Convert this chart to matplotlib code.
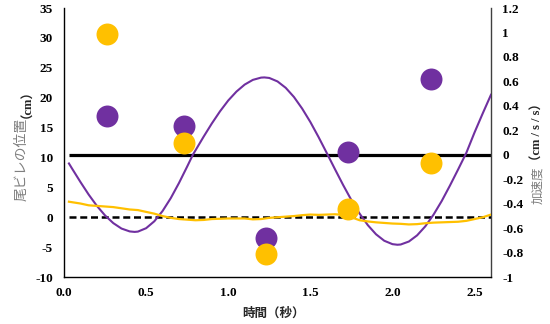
import numpy as np
import matplotlib
matplotlib.use("Agg")
import matplotlib.pyplot as plt
from matplotlib.font_manager import FontProperties

# tail fin position trace (cm)
t_fin = [0.03, 0.05, 0.10, 0.15, 0.20, 0.25, 0.30, 0.35, 0.40, 0.43, 0.45, 0.50,
         0.55, 0.60, 0.65, 0.70, 0.75, 0.785, 0.80, 0.85, 0.90, 0.95, 1.00, 1.05,
         1.10, 1.15, 1.20, 1.22, 1.25, 1.30, 1.35, 1.40, 1.45, 1.50, 1.55, 1.60,
         1.65, 1.70, 1.75, 1.80, 1.85, 1.90, 1.95, 2.00, 2.03, 2.05, 2.10, 2.15,
         2.20, 2.25, 2.30, 2.35, 2.40, 2.45, 2.50, 2.55, 2.60]
fin_pos = [9.0, 8.1, 5.9, 3.8, 1.91, 0.3, -0.98, -1.89, -2.37, -2.45, -2.4, -1.83,
           -0.67, 1.04, 3.2, 5.73, 8.49, 10.48, 11.17, 13.48, 15.69, 17.73, 19.54, 21.03,
           22.2, 22.99, 23.37, 23.4, 23.31, 22.73, 21.66, 20.13, 18.19, 15.94, 13.42, 10.75,
           8.04, 5.38, 2.87, 0.61, -1.32, -2.85, -3.93, -4.5, -4.6, -4.56, -4.06, -3.03,
           -1.52, 0.43, 2.72, 5.3, 8.01, 10.79, 14.2, 17.4, 20.5]

# second trace (cm)
t_sub = [0.03, 0.10, 0.15, 0.20, 0.25, 0.30, 0.35, 0.40, 0.45, 0.50, 0.55, 0.60,
         0.65, 0.70, 0.75, 0.80, 0.85, 0.90, 0.95, 1.00, 1.05, 1.10, 1.15, 1.20,
         1.25, 1.30, 1.35, 1.40, 1.45, 1.50, 1.55, 1.60, 1.65, 1.70, 1.75, 1.80,
         1.85, 1.90, 1.95, 2.00, 2.05, 2.10, 2.15, 2.20, 2.25, 2.30, 2.35, 2.40,
         2.45, 2.50, 2.55, 2.60]
sub_pos = [2.6, 2.3, 2.0, 1.9, 1.8, 1.7, 1.5, 1.3, 1.2, 0.9, 0.6, 0.2,
           -0.1, -0.3, -0.4, -0.5, -0.45, -0.3, -0.25, -0.2, -0.2, -0.2, -0.35, -0.3,
           -0.1, 0.0, 0.1, 0.2, 0.35, 0.45, 0.4, 0.45, 0.5, 0.4, 0.0, -0.5,
           -0.7, -0.85, -0.95, -1.05, -1.1, -1.2, -1.15, -1.0, -0.9, -0.85, -0.8, -0.75,
           -0.6, -0.3, 0.0, 0.45]

# sampled points
t_pts = [0.26, 0.73, 1.23, 1.73, 2.235]
purple_pts = [16.9, 15.2, -3.4, 10.9, 23.1]
yellow_pts = [30.7, 12.4, -6.1, 1.3, 9.1]

x_ticks = [0.0, 0.5, 1.0, 1.5, 2.0, 2.5]
left_ticks = [-10, -5, 0, 5, 10, 15, 20, 25, 30, 35]
right_ticks = [-1, -0.8, -0.6, -0.4, -0.2, 0, 0.2, 0.4, 0.6, 0.8, 1, 1.2]

PURPLE = "#7030A0"
GOLD = "#FFC000"

fig = plt.figure(figsize=(5.5, 3.24), dpi=100)
ax = fig.add_axes([0.1164, 0.145, 0.7763, 0.830])
ax2 = ax.twinx()

# reference lines across the trace span
base_t = [t_fin[0], t_fin[-1]]
ax2.plot(base_t, [0, 0], color="black", lw=2.3, solid_capstyle="butt")
ax.plot(base_t, [0, 0], color="black", lw=1.8, ls=(0, (2.8, 1.5)))

ax.plot(t_fin, fin_pos, color=PURPLE, lw=1.5)
ax.plot(t_sub, sub_pos, color=GOLD, lw=1.6)
ax.scatter(t_pts, purple_pts, s=250, color=PURPLE, linewidths=0, zorder=5)
ax.scatter(t_pts, yellow_pts, s=250, color=GOLD, linewidths=0, zorder=5)

ax.set_zorder(ax2.get_zorder() + 1)
ax.patch.set_visible(False)

ax.set_xlim(0, 2.6)
ax.set_ylim(-10, 35)
ax2.set_ylim(-1, 1.2)
ax.set_xticks(x_ticks)
ax.set_xticklabels([f"{v:.1f}" for v in x_ticks])
ax.set_yticks(left_ticks)
ax.set_yticklabels([str(v) for v in left_ticks])
ax2.set_yticks(right_ticks)
ax2.set_yticklabels([f"{v:g}" for v in right_ticks])

tick_font = FontProperties(family="Liberation Serif", weight="bold", size=9.5)
for lab in ax.get_xticklabels() + ax.get_yticklabels() + ax2.get_yticklabels():
    lab.set_fontproperties(tick_font)
ax.tick_params(axis="x", length=0, pad=7)
ax.tick_params(axis="y", length=0, pad=8)
ax2.tick_params(length=0, pad=8)

for a in (ax, ax2):
    a.spines["top"].set_visible(False)
ax.spines["right"].set_visible(False)
ax2.spines["left"].set_visible(False)
ax2.spines["bottom"].set_visible(False)
ax.spines["left"].set_linewidth(1.0)
ax.spines["bottom"].set_linewidth(1.0)
ax2.spines["right"].set_color("#404040")
ax2.spines["right"].set_linewidth(1.0)

jp = ["Noto Sans CJK JP", "DejaVu Sans"]
mixed = ["Liberation Serif", "Noto Sans CJK JP"]

# left axis title, split into the Japanese part and the unit
fig.text(0.039, 0.636, "尾ビレの位置", rotation=90, ha="center", va="top",
         family=jp, size=10, color="#7f7f7f")
fig.text(0.039, 0.636, "（cm）", rotation=90, ha="center", va="bottom",
         family=mixed, size=9, weight="bold", color="#262626")

# right axis title
fig.text(0.978, 0.485, "加速度", rotation=90, ha="center", va="top",
         family=jp, size=9, color="#7f7f7f")
fig.text(0.978, 0.485, "（cm / s / s）", rotation=90, ha="center", va="bottom",
         family=mixed, size=9, weight="bold", color="#262626")

fig.text(0.497, 0.034, "時間（秒）", ha="center", va="center",
         family=jp, size=9, weight="bold", color="#262626")

fig.savefig("out.png", dpi=100)
